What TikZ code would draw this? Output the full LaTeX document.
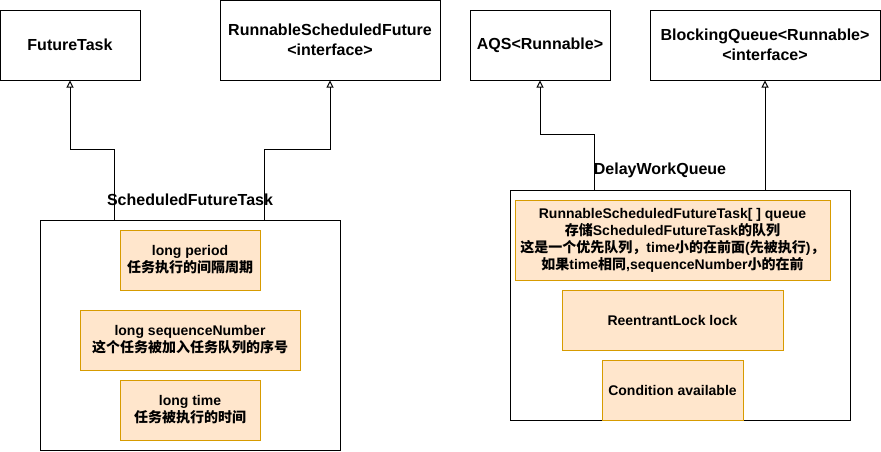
\documentclass[tikz,border=0pt]{standalone}
\usepackage{fontspec}
\setmainfont{Liberation Sans}
\newfontfamily\cjk{Noto Sans CJK SC}
\newcommand\zh[1]{{\cjk #1}}
\usetikzlibrary{arrows.meta}
\definecolor{fillor}{HTML}{FFE6CC}
\definecolor{drawor}{HTML}{D79B00}
\tikzset{
  every node/.style={font=\fontsize{14}{17}\selectfont\bfseries, align=center, inner sep=0pt},
  bigtext/.style={font=\fontsize{16}{20}\selectfont\bfseries},
  plainbox/.style={draw=black, line width=1pt, fill=white},
  fieldbox/.style={draw=drawor, line width=1pt, fill=fillor},
  inh/.style={draw=black, line width=1pt, -{Triangle[open, length=7pt, width=7pt]}},
}
\begin{document}
\begin{tikzpicture}[x=1pt, y=-1pt]
\useasboundingbox (0,0) rectangle (881,451);
% top boxes
\node[plainbox, bigtext, minimum width=140, minimum height=70] (ft) at (70,45) {FutureTask};
\node[plainbox, bigtext, minimum width=220, minimum height=80] (rsf) at (330,40) {RunnableScheduledFuture\\<interface>};
\node[plainbox, bigtext, minimum width=140, minimum height=70] (aqs) at (540,45) {AQS<Runnable>};
\node[plainbox, bigtext, minimum width=230, minimum height=70] (bq) at (765,45) {BlockingQueue<Runnable>\\<interface>};
% containers
\node[plainbox, minimum width=300, minimum height=230] (sft) at (190,335) {};
\node[bigtext] (sftl) at (190,200) {ScheduledFutureTask};
\node[plainbox, minimum width=340, minimum height=230] (dwq) at (680,305) {};
\node[bigtext] (dwql) at (660,170) {DelayWorkQueue};
% fields left
\node[fieldbox, minimum width=140, minimum height=60] (per) at (190,260) {long period\\\zh{任务执行的间隔周期}};
\node[fieldbox, minimum width=220, minimum height=60] (seq) at (190,340) {long sequenceNumber\\\zh{这个任务被加入任务队列的序号}};
\node[fieldbox, minimum width=140, minimum height=60] (tim) at (190,410) {long time\\\zh{任务被执行的时间}};
% fields right
\node[fieldbox, minimum width=315, minimum height=80] (que) at (672.5,240) {RunnableScheduledFutureTask[ ] queue\\\zh{存储}ScheduledFutureTask\zh{的队列}\\\zh{这是一个优先队列，}time\zh{小的在前面}(\zh{先被执行})\zh{，}\\\zh{如果}time\zh{相同}{,}sequenceNumber\zh{小的在前}};
\node[fieldbox, minimum width=221, minimum height=60] (lock) at (672.5,320) {ReentrantLock lock};
\node[fieldbox, minimum width=141, minimum height=60] (cond) at (672.5,390) {Condition available};
% inheritance connectors
\draw[inh] ([xshift=75pt]sft.north west) -- ++(0,-70) -| (ft.south);
\draw[inh] ([xshift=225pt]sft.north west) -- ++(0,-70) -| (rsf.south);
\draw[inh] ([xshift=85pt]dwq.north west) -- ++(0,-55) -| (aqs.south);
\draw[inh] (dwq.north -| bq.south) -- (bq.south);
\end{tikzpicture}
\end{document}
